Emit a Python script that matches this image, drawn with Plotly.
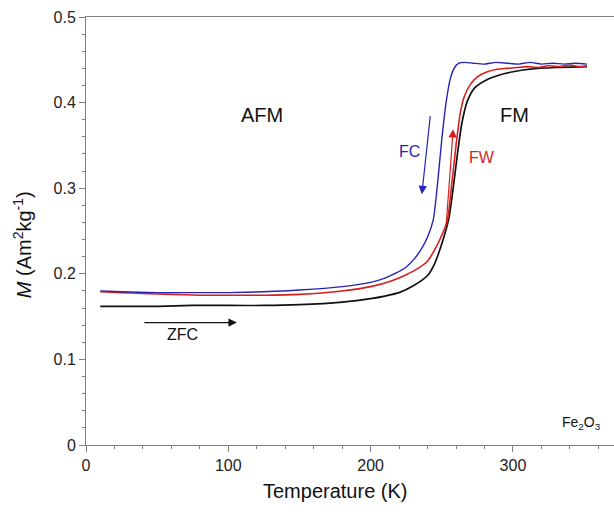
import plotly.graph_objects as go

# ZFC (black)
t_zfc = [10, 30, 50, 75, 100, 125, 150, 180, 200, 210, 220, 230, 240, 245, 250, 255,
         258, 261, 264, 268, 273, 282, 290, 300, 312, 330, 352]
m_zfc = [0.162, 0.162, 0.162, 0.163, 0.163, 0.163, 0.164, 0.167, 0.171, 0.174, 0.178,
         0.186, 0.198, 0.212, 0.235, 0.265, 0.300, 0.340, 0.375, 0.402, 0.417, 0.427,
         0.432, 0.436, 0.439, 0.441, 0.442]

# FW (red)
t_fw = [10, 25, 40, 60, 80, 100, 125, 150, 180, 200, 215, 225, 233, 240, 245, 250, 254,
        257, 260, 263, 266, 270, 275, 282, 289, 296, 303, 310, 318, 325, 333, 340, 346, 352]
m_fw = [0.179, 0.178, 0.177, 0.176, 0.175, 0.175, 0.175, 0.176, 0.180, 0.185, 0.192,
        0.199, 0.206, 0.215, 0.228, 0.245, 0.263, 0.305, 0.350, 0.388, 0.408, 0.421,
        0.430, 0.436, 0.439, 0.440, 0.441, 0.442, 0.441, 0.443, 0.442, 0.444, 0.442, 0.443]

# FC (blue)
t_fc = [10, 25, 50, 75, 100, 125, 150, 180, 200, 210, 218, 225, 231, 236, 240, 244,
        247, 250, 253, 256, 259, 262, 266, 272, 280, 288, 296, 304, 312, 320, 328, 336, 344, 352]
m_fc = [0.180, 0.179, 0.178, 0.178, 0.178, 0.179, 0.181, 0.185, 0.190, 0.195, 0.201,
        0.208, 0.218, 0.230, 0.243, 0.263, 0.305, 0.357, 0.400, 0.428, 0.441, 0.446,
        0.447, 0.446, 0.445, 0.447, 0.446, 0.445, 0.447, 0.445, 0.446, 0.445, 0.446, 0.445]

x_ticks = [0, 100, 200, 300]
y_ticks = [0, 0.1, 0.2, 0.3, 0.4, 0.5]
y_tick_text = ["0", "0.1", "0.2", "0.3", "0.4", "0.5"]

FONT = "Liberation Sans, Arial, sans-serif"
BLUE = "#2424b8"
RED = "#d41f1f"
BLACK = "#111111"
AXIS = "#808080"

fig = go.Figure()
fig.add_trace(go.Scatter(x=t_zfc, y=m_zfc, mode="lines", line=dict(color=BLACK, width=1.7, shape="spline", smoothing=0.6), name="ZFC"))
fig.add_trace(go.Scatter(x=t_fw, y=m_fw, mode="lines", line=dict(color=RED, width=1.6, shape="spline", smoothing=0.6), name="FW"))
fig.add_trace(go.Scatter(x=t_fc, y=m_fc, mode="lines", line=dict(color=BLUE, width=1.4, shape="spline", smoothing=0.6), name="FC"))

ann = []
def txt(x, y, s, color="#111111", size=20, xref="x", yref="y", angle=0):
    ann.append(dict(x=x, y=y, xref=xref, yref=yref, text=s, showarrow=False,
                    font=dict(family=FONT, size=size, color=color), textangle=angle,
                    xanchor="center", yanchor="middle"))

txt(124, 0.386, "AFM")
txt(301, 0.386, "FM")
txt(227, 0.343, "FC", color=BLUE, size=16)
txt(278, 0.336, "FW", color=RED, size=16)
txt(68, 0.129, "ZFC", size=16)
txt(348, 0.026, "Fe<sub>2</sub>O<sub>3</sub>", size=14)

# arrows
def arrow(x0, y0, x1, y1, color):
    ann.append(dict(x=x1, y=y1, ax=x0, ay=y0, xref="x", yref="y", axref="x", ayref="y",
                    text="", showarrow=True, arrowhead=2, arrowsize=1.4, arrowwidth=1.2,
                    arrowcolor=color))

arrow(242, 0.386, 236, 0.293, BLUE)
arrow(253, 0.255, 258, 0.369, RED)
arrow(40, 0.143, 106, 0.143, BLACK)

# axis titles
txt(0.473, -0.1075, "Temperature (K)", size=20, xref="paper", yref="paper")
txt(-0.121, 0.467, "<i>M</i> (Am<sup>2</sup>kg<sup>-1</sup>)", size=20, xref="paper", yref="paper", angle=-90)

fig.update_layout(
    width=614, height=515,
    margin=dict(l=86, r=0, t=17, b=70),
    paper_bgcolor="white", plot_bgcolor="white",
    showlegend=False,
    font=dict(family=FONT, size=16, color="#222222"),
    annotations=ann,
    xaxis=dict(range=[0, 371], tickvals=x_ticks, showgrid=False, zeroline=False,
               showline=True, linecolor=AXIS, linewidth=1, mirror=True,
               ticks="outside", ticklen=6, tickcolor=AXIS,
               minor=dict(dtick=20, tick0=0, ticks="outside", ticklen=3, tickcolor=AXIS),
               tickfont=dict(size=16, family=FONT, color="#222222")),
    yaxis=dict(range=[0, 0.5], tickvals=y_ticks, ticktext=y_tick_text, showgrid=False, zeroline=False,
               showline=True, linecolor=AXIS, linewidth=1,
               ticks="outside", ticklen=6, tickcolor=AXIS,
               minor=dict(dtick=0.02, tick0=0, ticks="outside", ticklen=3, tickcolor=AXIS),
               tickfont=dict(size=16, family=FONT, color="#222222")),
)

fig.write_html("out.html")
